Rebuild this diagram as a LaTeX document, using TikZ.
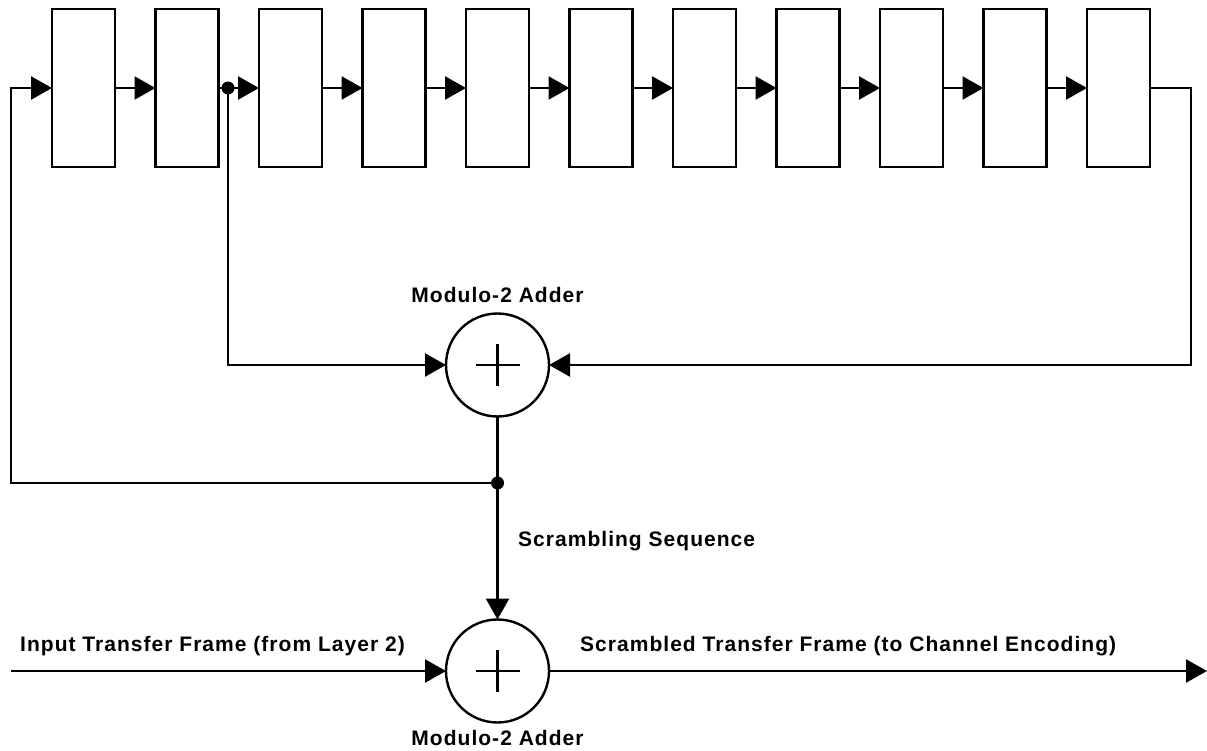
\documentclass[tikz,border=0pt]{standalone}
\usepackage{fontspec}
\setmainfont{Liberation Sans}[LetterSpace=4.9]
\usetikzlibrary{arrows.meta}

\newcommand*{\regMin}{1}
\newcommand*{\regMax}{11}
\newcommand*{\regPitch}{103.5}
\newcommand*{\regY}{-88}
\newcommand*{\xLeft}{11}
\newcommand*{\xRight}{1191}
\newcommand*{\xAdd}{497.5}
\newcommand*{\yAddTop}{-365}
\newcommand*{\yAddBot}{-671}
\newcommand*{\yTap}{-483}

\tikzset{
    wire/.style={line width=2.4pt},
    flow/.style={wire, -{Triangle[length=21pt,width=23pt]}},
    regbox/.style={rectangle, draw, line width=2.4pt, minimum width=63pt, minimum height=158pt, inner sep=0pt, outer sep=0pt},
    adder/.style={circle, draw, line width=2.4pt, minimum size=103pt, inner sep=0pt, outer sep=0pt},
    junction/.style={circle, fill=black, minimum size=13pt, inner sep=0pt, outer sep=0pt},
    label/.style={font=\fontsize{21}{23}\selectfont\bfseries, inner sep=0pt, text=black}
}

\begin{document}
\begin{tikzpicture}[x=1pt,y=1pt]
    \useasboundingbox (0,0) rectangle (1207,-751);

    % shift register
    \foreach \i in {\regMin,...,\regMax} {
        \node [regbox] (reg\i) at ({83.5+\regPitch*(\i-1)},\regY) {};
    }
    \foreach \i [remember=\i as \j (initially 1)] in {2,...,\regMax} {
        \draw [flow] (reg\j.east) -- (reg\i.west);
    }

    % adders
    \node [adder] (addTop) at (\xAdd,\yAddTop) {};
    \node [adder] (addBot) at (\xAdd,\yAddBot) {};
    \draw [wire] ([xshift=-22pt]addTop.center) -- ([xshift=22pt]addTop.center);
    \draw [wire] ([yshift=21pt]addTop.center) -- ([yshift=-21pt]addTop.center);
    \draw [wire] ([xshift=-22pt]addBot.center) -- ([xshift=22pt]addBot.center);
    \draw [wire] ([yshift=21pt]addBot.center) -- ([yshift=-21pt]addBot.center);

    % taps
    \node [junction] (tapReg) at (228,\regY) {};
    \node [junction] (tapSeq) at (\xAdd,\yTap) {};
    \coordinate (inEnd) at (\xLeft,\yAddBot);
    \coordinate (outEnd) at (1207,\yAddBot);

    \draw [flow] (tapReg.center) |- (addTop.west);
    \draw [flow] (reg11.east) -| (\xRight,\yAddTop) -- (addTop.east);
    \draw [wire] (addTop.south) -- (tapSeq.center);
    \draw [flow] (tapSeq.center) -- (addBot.north);
    \draw [flow] (tapSeq.center) -| (\xLeft,\regY) -- (reg1.west);
    \draw [flow] (inEnd) -- (addBot.west);
    \draw [flow] (addBot.east) -- (outEnd);

    % labels
    \node [label] (lblTop) at (\xAdd,-295) {Modulo-2 Adder};
    \node [label] (lblBot) at (\xAdd,-738) {Modulo-2 Adder};
    \node [label, anchor=west] (lblSeq) at (518,-541) {Scrambling Sequence};
    \node [label, anchor=west] (lblIn) at (20,-646) {Input Transfer Frame (from Layer 2)};
    \node [label, anchor=west] (lblOut) at (580,-646) {Scrambled Transfer Frame (to Channel Encoding)};

\end{tikzpicture}
\end{document}
